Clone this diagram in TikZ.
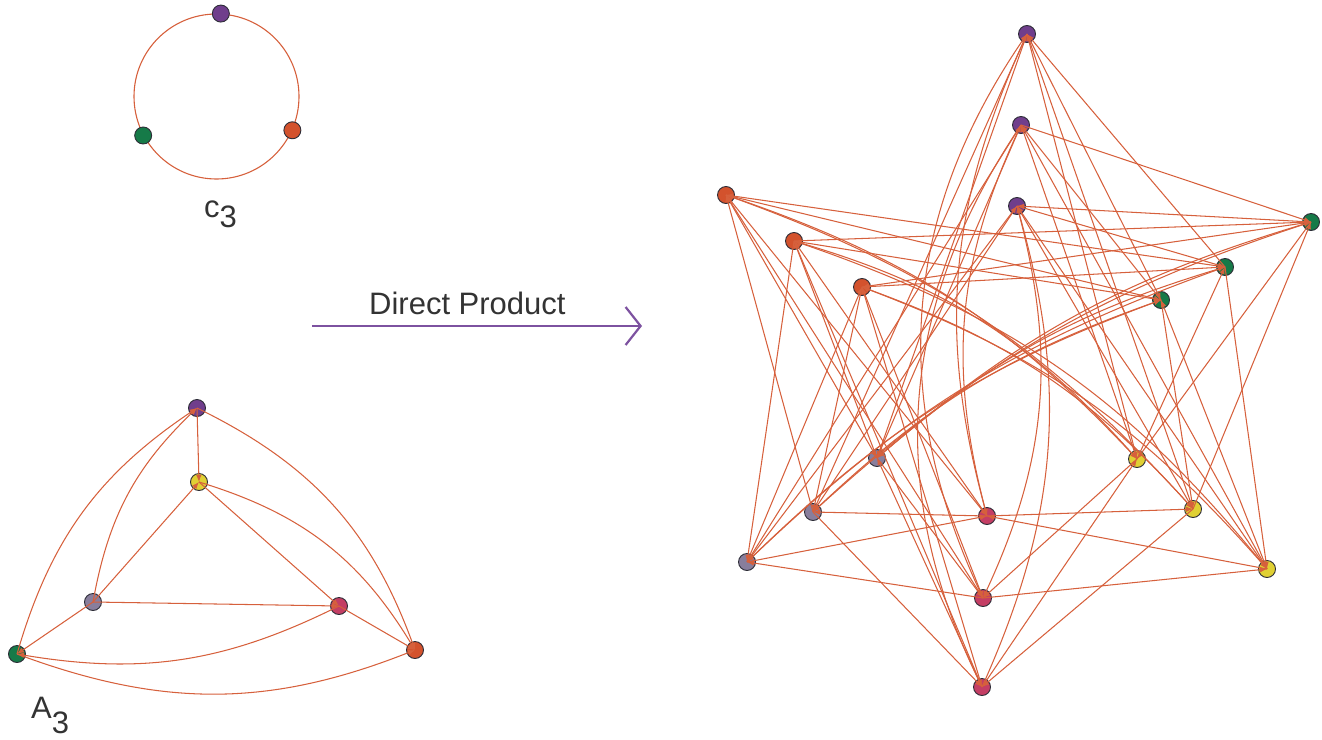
\documentclass[tikz,border=0pt]{standalone}
\usepackage{fontspec}
\setmainfont{Liberation Sans}
\usetikzlibrary{arrows.meta}

\definecolor{edgecol}{RGB}{214,96,60}
\definecolor{vline}{RGB}{45,45,55}
\definecolor{cpurple}{RGB}{112,62,140}
\definecolor{corange}{RGB}{211,82,45}
\definecolor{cgreen}{RGB}{22,122,72}
\definecolor{cgray}{RGB}{136,126,156}
\definecolor{cyellow}{RGB}{224,208,52}
\definecolor{cpink}{RGB}{196,62,100}
\definecolor{arrowcol}{RGB}{125,82,160}
\definecolor{textcol}{RGB}{51,51,51}

\begin{document}
\begin{tikzpicture}[x=1pt,y=-1pt,
  edge/.style={draw=edgecol, line width=1.05pt},
  tipend/.style={arrows={-Latex[length=7pt,width=5.5pt]}},
  tipstart/.style={arrows={Latex[length=7pt,width=5.5pt]-}},
  vtx/.style={circle, draw=vline, line width=0.9pt, minimum size=17pt, inner sep=0pt},
  dotpurple/.style={vtx, fill=cpurple},
  dotorange/.style={vtx, fill=corange},
  dotgreen/.style={vtx, fill=cgreen},
  dotgray/.style={vtx, fill=cgray},
  dotyellow/.style={vtx, fill=cyellow},
  dotpink/.style={vtx, fill=cpink},
  lbl/.style={inner sep=0pt, text=textcol, font=\fontsize{31}{31}\selectfont},
  prodarrow/.style={draw=arrowcol, line width=2.4pt,
    -{Straight Barb[length=15pt,width=38pt,line width=2.2pt]}},
]
\useasboundingbox (0,0) rectangle (1322,739);

% ---------- the cycle c3 ----------
\node[circle, draw=edgecol, line width=1.1pt, minimum size=165pt, inner sep=0pt] (ring) at (216.5,96.5) {};
\node[dotpurple] (ca) at (ring.87.6) {};
\node[dotgreen]  (cc) at (ring.208.6) {};
\node[dotorange] (cb) at (ring.336.4) {};
\node[lbl, anchor=base west] (c3lbl) at (204,217) {c\raisebox{-10pt}{3}};

% ---------- the graph A3 ----------
\node[dotpurple] (ap)  at (197,408) {};
\node[dotyellow] (ay)  at (199,482) {};
\node[dotgray]   (ag)  at (93,602) {};
\node[dotpink]   (ak)  at (339,606) {};
\node[dotgreen]  (agr) at (17,654) {};
\node[dotorange] (ao)  at (415,650) {};
\node[lbl, anchor=base west] (a3lbl) at (31,718) {A\raisebox{-15pt}{3}};

\draw[edge, tipend]   (ap.center) -- (ay.center);
\draw[edge, tipstart] (ay.center) -- (ag.center);
\draw[edge, tipend]   (ay.center) -- (ak.center);
\draw[edge, tipend]   (ag.center) -- (ak.center);
\draw[edge, tipend]   (ag.center) -- (agr.center);
\draw[edge, tipend]   (ak.center) -- (ao.center);
\draw[edge, tipstart] (ap.center) to[bend right=18] (ag.center);
\draw[edge, tipstart] (ap.center) to[bend right=20] (agr.center);
\draw[edge, tipend]   (ap.center) to[bend left=22] (ao.center);
\draw[edge, tipend]   (ay.center) to[bend left=21] (ao.center);
\draw[edge, tipend]   (ak.center) to[bend left=18] (agr.center);
\draw[edge, tipend]   (agr.center) to[bend right=21] (ao.center);

% ---------- the arrow ----------
\coordinate (dpstart) at (312,326);
\coordinate (dpend) at (642,326);
\draw[prodarrow] (dpstart) -- (dpend);
\node[lbl, anchor=base west] (dplbl) at (369,314) {Direct Product};

% ---------- the product graph ----------
% index 1 = inner, 2 = middle, 3 = outer; arcs run from index i to index i+1 (mod 3)
\node[dotpurple] (p1) at (1017,206) {};
\node[dotpurple] (p2) at (1021,125) {};
\node[dotpurple] (p3) at (1027,34) {};
\node[dotorange] (o1) at (862,287) {};
\node[dotorange] (o2) at (794,241) {};
\node[dotorange] (o3) at (726,195) {};
\node[dotgreen]  (g1) at (1161,300) {};
\node[dotgreen]  (g2) at (1225,267) {};
\node[dotgreen]  (g3) at (1311,222) {};
\node[dotgray]   (r1) at (877,458) {};
\node[dotgray]   (r2) at (813,512) {};
\node[dotgray]   (r3) at (747,562) {};
\node[dotyellow] (y1) at (1137,459) {};
\node[dotyellow] (y2) at (1193,509) {};
\node[dotyellow] (y3) at (1267,569) {};
\node[dotpink]   (k1) at (987,516) {};
\node[dotpink]   (k2) at (983,598) {};
\node[dotpink]   (k3) at (982,687) {};

% straight arcs between classes on different axes
\foreach \a/\b in {p/g,p/r,p/y,o/g,o/r,o/k,g/y,k/r,k/y}{
  \foreach \i in {1,2,3}{
    \foreach \j in {1,2,3}{
      \pgfmathtruncatemacro\nxt{mod(\i,3)+1}
      \ifnum\i=\j\relax\else
        \ifnum\j=\nxt\relax
          \draw[edge, tipend] (\a\i.center) -- (\b\j.center);
        \else
          \draw[edge, tipstart] (\a\i.center) -- (\b\j.center);
        \fi
      \fi
    }
  }
}

% curved arcs along the vertical axis
\draw[edge, tipend]   (p3.center) to[bend right=20] (k1.center);
\draw[edge, tipstart] (p2.center) to[bend right=20] (k1.center);
\draw[edge, tipstart] (p3.center) to[bend right=30] (k2.center);
\draw[edge, tipend]   (p2.center) to[bend right=30] (k3.center);
\draw[edge, tipend]   (p1.center) to[bend left=20] (k2.center);
\draw[edge, tipstart] (p1.center) to[bend left=20] (k3.center);

% curved arcs along the orange--yellow axis
\draw[edge, tipend]   (o1.center) to[bend left=14] (y2.center);
\draw[edge, tipstart] (o1.center) to[bend left=14] (y3.center);
\draw[edge, tipstart] (o2.center) to[bend left=16] (y1.center);
\draw[edge, tipend]   (o2.center) to[bend left=16] (y3.center);
\draw[edge, tipend]   (o3.center) to[bend left=14] (y1.center);
\draw[edge, tipstart] (o3.center) to[bend left=14] (y2.center);

% curved arcs along the green--gray axis
\draw[edge, tipend]   (g1.center) to[bend right=12] (r2.center);
\draw[edge, tipstart] (g1.center) to[bend right=12] (r3.center);
\draw[edge, tipstart] (g2.center) to[bend right=12] (r1.center);
\draw[edge, tipend]   (g2.center) to[bend right=12] (r3.center);
\draw[edge, tipend]   (g3.center) to[bend right=12] (r1.center);
\draw[edge, tipstart] (g3.center) to[bend right=12] (r2.center);
\end{tikzpicture}
\end{document}
